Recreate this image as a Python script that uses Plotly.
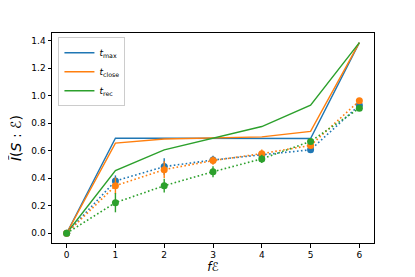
import plotly.graph_objects as go

x = [0, 1, 2, 3, 4, 5, 6]

# solid lines (legend)
t_max = [0.0, 0.69, 0.69, 0.69, 0.69, 0.688, 1.385]
t_close = [0.0, 0.655, 0.685, 0.69, 0.70, 0.74, 1.385]
t_rec = [0.0, 0.455, 0.605, 0.69, 0.775, 0.93, 1.385]

# dotted lines with error bars
m_max = [0.0, 0.38, 0.484, 0.532, 0.57, 0.606, 0.93]
m_close = [0.0, 0.345, 0.462, 0.528, 0.578, 0.638, 0.962]
m_rec = [0.0, 0.222, 0.345, 0.447, 0.54, 0.667, 0.908]
e_max = [0.0, 0.04, 0.06, 0.03, 0.02, 0.02, 0.02]
e_close = [0.0, 0.06, 0.06, 0.03, 0.03, 0.02, 0.02]
e_rec = [0.0, 0.07, 0.05, 0.04, 0.03, 0.02, 0.02]

names = ["<i>t</i><sub>max</sub>", "<i>t</i><sub>close</sub>", "<i>t</i><sub>rec</sub>"]
colors = ["#1f77b4", "#ff7f0e", "#2ca02c"]

fig = go.Figure()
for ys, nm, c in zip([t_max, t_close, t_rec], names, colors):
    fig.add_trace(go.Scatter(x=x, y=ys, mode="lines", name=nm,
                             line=dict(color=c, width=1.4)))
for ys, es, c in zip([m_max, m_close, m_rec], [e_max, e_close, e_rec], colors):
    fig.add_trace(go.Scatter(x=x, y=ys, mode="lines+markers", showlegend=False,
                             line=dict(color=c, width=1.6, dash="1.6px,2.4px"),
                             marker=dict(color=c, size=7),
                             error_y=dict(type="data", array=es, color=c, thickness=1.4, width=0)))

axis_common = dict(showline=True, linecolor="black", linewidth=1, mirror=True,
                   ticks="outside", ticklen=3.5, tickcolor="black", showgrid=False,
                   zeroline=False, automargin=False,
                   tickfont=dict(family="DejaVu Sans", size=9, color="black"))

# page body has an 8px default margin, so the figure is drawn 8px smaller and offset
fig.update_layout(
    width=407, height=269,
    margin=dict(l=44, r=41, t=25, b=34),
    plot_bgcolor="white", paper_bgcolor="white",
    xaxis=dict(range=[-0.3, 6.3], tickvals=x, **axis_common,
               title=dict(text="<i>f</i>ℰ", font=dict(family="DejaVu Sans", size=12, color="black"), standoff=2)),
    yaxis=dict(range=[-0.071, 1.4545], tickvals=[0, 0.2, 0.4, 0.6, 0.8, 1.0, 1.2, 1.4],
               tickformat=".1f", **axis_common,
               title=dict(text="<i>Ĩ</i>(<i>S</i> : ℰ)", font=dict(family="DejaVu Sans", size=14, color="black"), standoff=8)),
    legend=dict(x=0.02, y=0.98, xanchor="left", yanchor="top", bgcolor="white",
                bordercolor="#cccccc", borderwidth=1, tracegroupgap=0,
                font=dict(family="DejaVu Sans", size=9, color="black"), itemwidth=30),
    showlegend=True,
)

fig.write_html("out.html")
